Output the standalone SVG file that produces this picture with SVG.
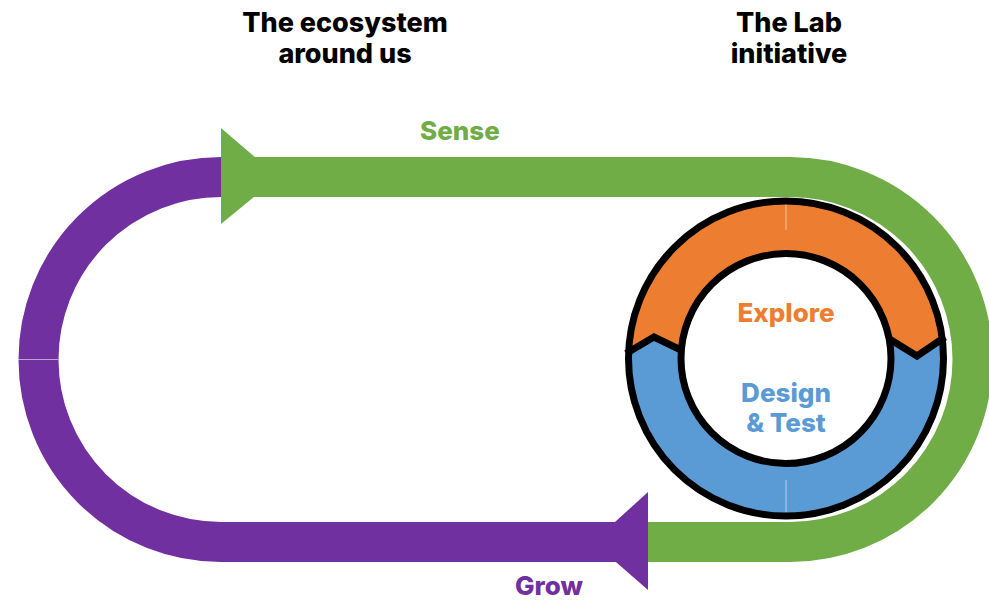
<svg xmlns="http://www.w3.org/2000/svg" width="989" height="600" viewBox="0 0 989 600">
<style>
.t{font-family:Inter,"Open Sans","DejaVu Sans",sans-serif;font-weight:800;text-anchor:middle}
.h{font-size:27px;fill:#000}
.l{font-size:26px}
.seam{stroke:#fff;stroke-width:1;opacity:0.55}
</style>
<rect width="989" height="600" fill="#fff"/>
<g id="connectors">
  <g id="sense-flow">
    <path d="M221 177 H790 A182.5 182.5 0 0 1 790 542 H648" fill="none" stroke="#70AD47" stroke-width="40"/>
    <polygon points="221,128 278,177 221,224" fill="#70AD47"/>
  </g>
  <g id="grow-flow">
    <path d="M648 542 H221 A182.5 182.5 0 0 1 221 177" fill="none" stroke="#7030A0" stroke-width="40"/>
    <polygon points="648,492 593,542 648,590" fill="#7030A0"/>
    <line class="seam" x1="18" y1="359.5" x2="58" y2="359.5"/>
  </g>
</g>
<g id="lab-cycle">
  <circle cx="786" cy="358.5" r="131" fill="none" stroke="#5B9BD5" stroke-width="50"/>
  <path d="M628.6 352 A157.5 157.5 0 0 1 942.3 339 L917 356 L889.2 339 A105 105 0 0 0 681.3 350 L654 337 Z" fill="#ED7D31"/>
  <line class="seam" x1="786" y1="204" x2="786" y2="230"/>
  <line class="seam" x1="786" y1="480" x2="786" y2="512"/>
  <polyline points="626,353.5 654,337 683,351" fill="none" stroke="#000" stroke-width="7" stroke-linejoin="miter"/>
  <polyline points="887,337.5 917,356 945,337" fill="none" stroke="#000" stroke-width="7" stroke-linejoin="miter"/>
  <circle cx="786" cy="358.5" r="157.5" fill="none" stroke="#000" stroke-width="7"/>
  <circle cx="786" cy="358.5" r="105" fill="#fff" stroke="#000" stroke-width="7"/>
</g>
<g id="label-ecosystem">
  <text class="t h" x="345" y="31.5">The ecosystem</text>
  <text class="t h" x="345" y="63">around us</text>
</g>
<g id="label-lab">
  <text class="t h" x="789" y="31.5">The Lab</text>
  <text class="t h" x="789" y="63">initiative</text>
</g>
<g id="node-sense"><text class="t l" x="460" y="140" fill="#70AD47">Sense</text></g>
<g id="node-grow"><text class="t l" x="549" y="595" fill="#7030A0">Grow</text></g>
<g id="node-explore"><text class="t l" x="786" y="321.5" fill="#ED7D31">Explore</text></g>
<g id="node-design">
  <text class="t l" x="786" y="401.5" fill="#5B9BD5">Design</text>
  <text class="t l" x="786" y="431.5" fill="#5B9BD5">&amp; Test</text>
</g>
</svg>
